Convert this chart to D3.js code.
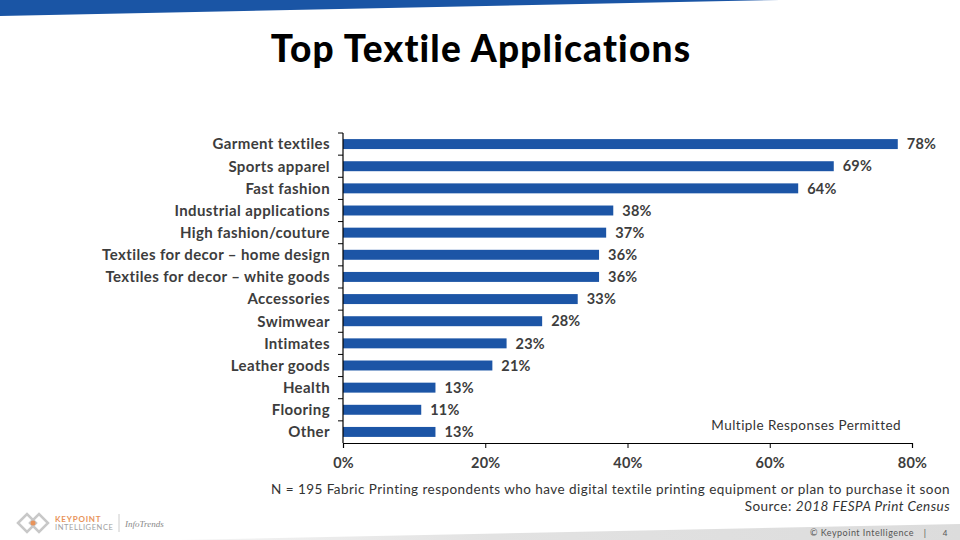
<!DOCTYPE html>
<html>
<head>
<meta charset="utf-8">
<script src="https://cdn.jsdelivr.net/npm/d3@7"></script>
<style>
  html, body { margin: 0; padding: 0; background: #fff; }
  svg { display: block; }
</style>
</head>
<body>
<svg id="chart" width="960" height="540"></svg>
<script>
const categories = [
  "Garment textiles", "Sports apparel", "Fast fashion", "Industrial applications",
  "High fashion/couture", "Textiles for decor – home design", "Textiles for decor – white goods",
  "Accessories", "Swimwear", "Intimates", "Leather goods", "Health", "Flooring", "Other"
];
const values = [78, 69, 64, 38, 37, 36, 36, 33, 28, 23, 21, 13, 11, 13];
const xTicks = [0, 20, 40, 60, 80];

const svg = d3.select("#chart");
const font = "Lato, 'Open Sans', sans-serif";
const textColor = "#3d3d3d";
const barColor = "#1c55a6";

// top banner
svg.append("path").attr("d", "M0,0 L780,0 L0,16 Z").attr("fill", "#1a55a5");

// bottom grey band
const grad = svg.append("defs").append("linearGradient").attr("id", "g1")
  .attr("x1", "0").attr("x2", "1").attr("y1", "0").attr("y2", "0");
grad.append("stop").attr("offset", "0").attr("stop-color", "#f4f4f4");
grad.append("stop").attr("offset", "0.4").attr("stop-color", "#e2e2e2");
grad.append("stop").attr("offset", "1").attr("stop-color", "#dcdcdc");
svg.append("path").attr("d", "M180,540 L960,524 L960,540 Z").attr("fill", "url(#g1)");

// title
svg.append("text").attr("x", 481).attr("y", 62).attr("text-anchor", "middle")
  .attr("font-family", font).attr("font-weight", 900).attr("font-size", 37)
  .attr("letter-spacing", 1.2)
  .attr("fill", "#000").text("Top Textile Applications");

const x = d3.scaleLinear().domain([0, 80]).range([343, 912]);
const y = d3.scaleBand().domain(categories).range([133, 443]).padding(0);
const barH = y.bandwidth() * 0.45;

const g = svg.append("g");

// bars
g.selectAll("rect.bar").data(categories).join("rect")
  .attr("class", "bar")
  .attr("x", x(0))
  .attr("y", d => y(d) + (y.bandwidth() - barH) / 2)
  .attr("width", (d, i) => x(values[i]) - x(0))
  .attr("height", barH)
  .attr("fill", barColor);

// value labels
g.selectAll("text.val").data(categories).join("text")
  .attr("class", "val")
  .attr("x", (d, i) => x(values[i]) + 9)
  .attr("y", d => y(d) + y.bandwidth() / 2)
  .attr("dy", "0.36em")
  .attr("font-family", font).attr("font-weight", 700).attr("font-size", 14.5)
  .attr("letter-spacing", 0.2)
  .attr("fill", textColor)
  .text((d, i) => values[i] + "%");

// category labels
g.selectAll("text.cat").data(categories).join("text")
  .attr("class", "cat")
  .attr("x", 330)
  .attr("y", d => y(d) + y.bandwidth() / 2)
  .attr("dy", "0.36em")
  .attr("text-anchor", "end")
  .attr("font-family", font).attr("font-weight", 700).attr("font-size", 15)
  .attr("letter-spacing", 0.4)
  .attr("fill", textColor)
  .text(d => d);

// y axis line and ticks at band boundaries
g.append("line").attr("x1", x(0)).attr("x2", x(0)).attr("y1", y.range()[0]).attr("y2", y.range()[1])
  .attr("stroke", "#000").attr("stroke-width", 1.2);
const bounds = categories.map(d => y(d));
g.selectAll("line.ytick").data(bounds).join("line")
  .attr("class", "ytick")
  .attr("x1", x(0) - 5).attr("x2", x(0))
  .attr("y1", d => d).attr("y2", d => d)
  .attr("stroke", "#000").attr("stroke-width", 1);

// x axis
const xAxis = d3.axisBottom(x).tickValues(xTicks).tickSize(5).tickFormat(d => d + "%");
const xg = svg.append("g").attr("transform", `translate(0,${y.range()[1]})`).call(xAxis);
xg.select(".domain").attr("stroke", "#000").attr("stroke-width", 1.2);
xg.selectAll(".tick line").attr("stroke", "#000");
xg.selectAll(".tick text")
  .attr("y", 15)
  .attr("font-family", font).attr("font-weight", 700).attr("font-size", 14.5)
  .attr("letter-spacing", 0.2)
  .attr("fill", textColor);

// note
svg.append("text").attr("x", 901).attr("y", 430).attr("text-anchor", "end")
  .attr("font-family", font).attr("font-size", 13.5).attr("letter-spacing", 0.45).attr("fill", "#333")
  .text("Multiple Responses Permitted");

// footnotes
svg.append("text").attr("x", 950).attr("y", 494).attr("text-anchor", "end")
  .attr("font-family", font).attr("font-size", 13.5).attr("letter-spacing", 0.45).attr("fill", "#333")
  .text("N = 195 Fabric Printing respondents who have digital textile printing equipment or plan to purchase it soon");
const src = svg.append("text").attr("x", 950).attr("y", 511).attr("text-anchor", "end")
  .attr("font-family", font).attr("font-size", 13.5).attr("letter-spacing", 0.45).attr("fill", "#333");
src.append("tspan").text("Source: ");
src.append("tspan").attr("font-style", "italic").text("2018 FESPA Print Census");

// footer
svg.append("text").attr("x", 914).attr("y", 536).attr("text-anchor", "end")
  .attr("font-family", font).attr("font-size", 9).attr("letter-spacing", 0.5).attr("fill", "#555")
  .text("© Keypoint Intelligence");
svg.append("text").attr("x", 925).attr("y", 536).attr("text-anchor", "middle")
  .attr("font-family", font).attr("font-size", 9).attr("fill", "#555").text("|");
svg.append("text").attr("x", 945).attr("y", 536).attr("text-anchor", "middle")
  .attr("font-family", font).attr("font-size", 8).attr("fill", "#555").text("4");

// logo
const logo = svg.append("g");
logo.append("path").attr("d", "M18,523 L27,514 L36,523 L27,532 Z").attr("fill", "none").attr("stroke", "#c8c8c8").attr("stroke-width", 2.5);
logo.append("path").attr("d", "M30,523 L39,514 L48,523 L39,532 Z").attr("fill", "none").attr("stroke", "#c8c8c8").attr("stroke-width", 2.5);
logo.append("circle").attr("cx", 33).attr("cy", 523).attr("r", 2.5).attr("fill", "#e8935a");
logo.append("text").attr("x", 55).attr("y", 522).attr("font-family", font).attr("font-weight", 700)
  .attr("font-size", 8).attr("letter-spacing", 0.8).attr("fill", "#e8935a").text("KEYPOINT");
logo.append("text").attr("x", 55).attr("y", 530).attr("font-family", font)
  .attr("font-size", 7.5).attr("letter-spacing", 0.6).attr("fill", "#a0a0a0").text("INTELLIGENCE");
logo.append("line").attr("x1", 119).attr("x2", 119).attr("y1", 514).attr("y2", 532).attr("stroke", "#ccc");
logo.append("text").attr("x", 125).attr("y", 527).attr("font-family", "'Liberation Serif', serif")
  .attr("font-style", "italic").attr("font-size", 9).attr("fill", "#888").text("InfoTrends");
</script>
</body>
</html>
